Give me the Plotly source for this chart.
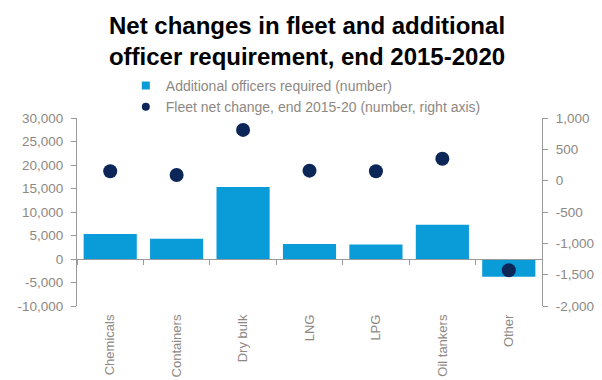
import plotly.graph_objects as go

categories = ["Chemicals", "Containers", "Dry bulk", "LNG", "LPG", "Oil tankers", "Other"]
officers_required = [5300, 4300, 15300, 3200, 3100, 7300, -3800]
fleet_net_change = [150, 90, 810, 160, 150, 350, -1430]

left_tickvals = [-10000, -5000, 0, 5000, 10000, 15000, 20000, 25000, 30000]
left_ticktext = ["-10,000", "-5,000", "0", "5,000", "10,000", "15,000", "20,000", "25,000", "30,000"]
right_tickvals = [-2000, -1500, -1000, -500, 0, 500, 1000]
right_ticktext = ["-2,000", "-1,500", "-1,000", "-500", "0", "500", "1,000"]

BAR = "#0a9bd9"
DOT = "#0b2657"
GREY = "#8e8883"
LINE = "#9a9a9a"
FONT = "Liberation Sans, Arial, sans-serif"

fig = go.Figure()
fig.add_trace(go.Bar(
    x=categories, y=officers_required, name="Additional officers required (number)",
    marker=dict(color=BAR, line=dict(width=0)), yaxis="y", xaxis="x", showlegend=False))
fig.add_trace(go.Scatter(
    x=categories, y=fleet_net_change, name="Fleet net change, end 2015-20 (number, right axis)",
    mode="markers", marker=dict(color=DOT, size=14), yaxis="y2", xaxis="x", showlegend=False))
# legend entries (small symbols as in the reference)
fig.add_trace(go.Scatter(
    x=[None], y=[None], name="Additional officers required (number)", mode="markers",
    marker=dict(color=BAR, size=8, symbol="square"), yaxis="y", xaxis="x"))
fig.add_trace(go.Scatter(
    x=[None], y=[None], name="Fleet net change, end 2015-20 (number, right axis)", mode="markers",
    marker=dict(color=DOT, size=8, symbol="circle"), yaxis="y2", xaxis="x"))
# invisible trace to carry the zero-line category axis with boundary ticks
fig.add_trace(go.Scatter(
    x=categories, y=[None] * len(categories), xaxis="x2", yaxis="y",
    showlegend=False, hoverinfo="skip", mode="markers", marker=dict(opacity=0)))

fig.update_layout(
    width=602, height=380,
    margin=dict(l=77, r=60, t=118, b=74, autoexpand=False),
    paper_bgcolor="white", plot_bgcolor="white",
    font=dict(family=FONT, color=GREY, size=14),
    title=dict(text="<b>Net changes in fleet and additional<br>officer requirement, end 2015-2020</b>",
               font=dict(family="Liberation Sans, Arial, sans-serif", size=24, color="black"),
               x=0.51, xref="container", xanchor="center", y=0.911, yref="container", yanchor="top"),
    bargap=0.2,
    showlegend=True,
    legend=dict(orientation="v", x=0.209, xref="container", xanchor="left",
                y=0.816, yanchor="top", yref="container",
                font=dict(family=FONT, size=14, color=GREY), bgcolor="rgba(0,0,0,0)",
                tracegroupgap=0, itemwidth=30),
    xaxis=dict(type="category", categoryorder="array", categoryarray=categories,
               range=[-0.5, 6.5], showline=False, ticks="", tickangle=-90,
               showgrid=False, zeroline=False, tickfont=dict(size=13, color=GREY),
               ticklabelstandoff=5, automargin=False),
    xaxis2=dict(type="category", categoryorder="array", categoryarray=categories,
                range=[-0.5, 6.5], overlaying="x", anchor="free", position=0.25,
                showline=True, linecolor=LINE, linewidth=1.2, ticks="outside",
                tickson="boundaries", ticklen=5, tickcolor=LINE, showticklabels=False,
                showgrid=False, zeroline=False),
    yaxis=dict(range=[-10000, 30000], tickvals=left_tickvals, ticktext=left_ticktext,
               showline=True, linecolor=LINE, linewidth=1.2, ticks="outside", ticklen=5,
               tickcolor=LINE, showgrid=False, zeroline=False, tickfont=dict(size=13.5, color=GREY),
               ticklabelstandoff=5, automargin=False),
    yaxis2=dict(range=[-2000, 1000], tickvals=right_tickvals, ticktext=right_ticktext,
                overlaying="y", side="right", showline=True, linecolor=LINE, linewidth=1.2,
                ticks="outside", ticklen=5, tickcolor=LINE, showgrid=False, zeroline=False,
                tickfont=dict(size=13.5, color=GREY), ticklabelstandoff=5, automargin=False),
)

fig.write_html("out.html")
